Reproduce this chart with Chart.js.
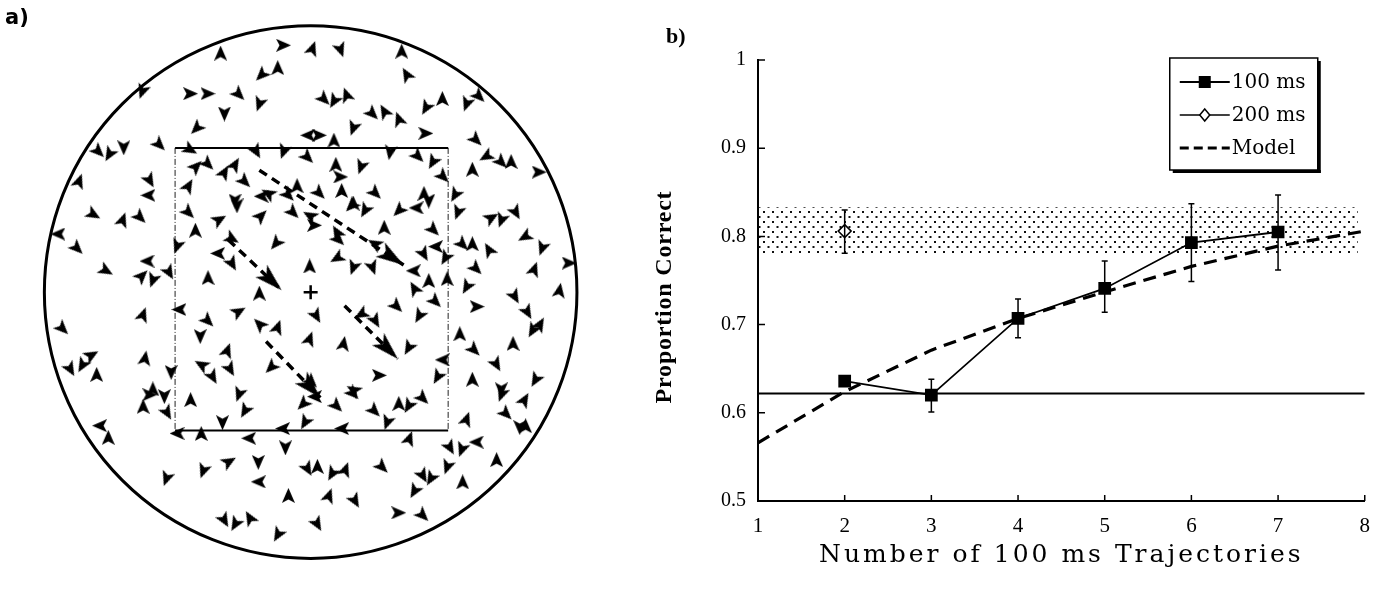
<!DOCTYPE html>
<html><head><meta charset="utf-8">
<script src="https://cdn.jsdelivr.net/npm/chart.js@4.4.1/dist/chart.umd.min.js"></script>
<style>
html,body{margin:0;padding:0;background:#fff;width:1383px;height:592px;overflow:hidden;}
#panelA{position:absolute;left:0;top:0;}
#panelB{position:absolute;left:600px;top:0;}
</style></head><body>
<canvas id="panelA" width="600" height="592"></canvas>
<canvas id="panelB" width="783" height="592"></canvas>
<script>
// ---------------- Panel a) data (stimulus display units) ----------------
const panelLabelA = 'a)';
const stimCircle = {x: 311, y: 292, r: 275};
const fixation = {x: 311, y: 292};
const windowBox = {left: 171, right: 453, top: 143, bottom: 435};
const trajStartX = [258, 226, 265, 346];
const trajStartY = [166, 238, 343, 306];
const trajEndX = [407, 281, 321, 401];
const trajEndY = [264, 290, 401, 361];
// [x, y, heading in degrees clockwise from up]
const stimArrows = [
[218,45,0],[283,37,90],[260,68,225],[277,60,0],[137,85,200],[187,87,90],[205,87,90],[237,88,135],[258,98,200],[222,108,180],
[193,123,225],[155,140,135],[187,145,120],[92,147,135],[103,150,210],[118,143,180],[255,147,150],[283,147,200],[308,153,135],[193,162,45],
[205,160,135],[222,168,30],[233,160,30],[72,177,20],[145,177,150],[143,192,270],[185,182,30],[243,178,135],[297,182,0],[260,193,270],
[267,190,300],[288,192,135],[233,198,180],
[313,40,20],[342,42,160],[405,43,0],[410,67,330],[325,93,135],[335,95,210],[348,88,340],[375,108,135],[387,105,330],[402,113,340],
[430,102,210],[447,92,0],[472,98,200],[485,90,135],[308,130,270],[320,130,90],[335,135,0],[355,123,200],[430,128,90],[482,135,135],
[492,152,240],[508,158,135],[518,157,0],[547,168,90],[337,160,0],[363,163,200],[342,173,90],[393,148,190],[422,152,135],[437,158,210],
[448,173,135],[478,165,0],[320,190,135],[343,187,0],[378,190,135],[428,190,0],[433,198,180],[460,192,210],[355,200,0],
[87,212,120],[117,217,20],[135,215,135],[185,210,135],[192,228,0],[217,217,60],[260,213,45],[50,232,270],[70,247,135],[173,245,200],
[230,237,120],[275,242,220],[215,252,270],[230,263,150],[100,270,120],[142,260,270],[137,275,45],[148,280,200],[165,272,150],[205,277,0],
[258,293,0],[175,310,270],[138,315,20],[237,312,60],[205,322,135],[258,325,315],[277,328,20],[55,330,135],[197,338,180],[225,352,20],
[85,357,60],[63,372,150],[75,368,210],[90,377,0],[140,360,10],[167,375,180],[198,367,300],[210,380,150],[228,372,150],[270,370,225],
[293,210,135],[235,203,180],[148,392,0],
[310,213,300],[315,223,90],[338,230,330],[340,238,135],[367,208,210],[353,203,225],[402,208,225],[420,205,270],[463,210,200],[387,225,0],
[377,242,300],[438,228,135],[440,245,270],[428,253,150],[450,257,210],[468,243,135],[478,242,0],[495,248,330],[498,215,60],[508,218,200],
[523,210,150],[532,235,240],[550,247,200],[578,262,90],[310,265,0],[338,257,240],[355,267,200],[375,267,160],[417,270,270],[433,280,0],
[452,278,0],[418,288,330],[482,268,135],[472,287,210],[542,268,20],[440,302,135],[400,307,135],[423,317,210],[483,307,90],[522,297,150],
[568,290,10],[535,313,150],[548,325,30],[540,332,210],[317,317,150],[363,315,240],[378,322,150],[310,340,20],[345,345,10],[412,350,210],
[465,335,0],[480,352,135],[520,345,0],[447,362,270],[503,367,150],[382,378,90],[442,380,210],[478,382,0],[543,383,210],[312,385,135],
[355,393,300],[508,393,180],
[145,398,90],[160,400,180],[138,410,0],[163,417,150],[187,403,0],[237,398,200],[243,415,210],[303,408,225],[93,430,270],[102,442,0],
[173,438,270],[198,438,0],[220,427,180],[247,443,270],[282,433,270],[305,427,210],[285,453,180],[227,467,60],[257,468,180],[200,477,200],
[162,485,200],[257,488,270],[288,502,0],[222,528,150],[233,532,210],[248,525,330],[277,543,210],
[315,400,270],[355,397,135],[338,410,135],[377,415,135],[402,407,0],[412,410,210],[427,402,135],[390,427,200],[343,433,270],[413,443,20],
[472,423,20],[508,398,200],[532,403,30],[513,418,135],[527,432,180],[533,430,0],[455,453,150],[467,455,200],[482,447,270],[503,465,0],
[308,475,150],[318,472,0],[333,480,210],[347,475,20],[385,473,135],[427,482,150],[435,485,210],[452,473,200],[468,488,0],[418,498,210],
[330,502,20],[357,508,150],[402,520,90],[427,523,135],[318,532,150]
];

// ---------------- Panel b) data ----------------
const panelLabelB = 'b)';
const xTitle = 'Number of 100 ms Trajectories';
const yTitle = 'Proportion Correct';
const xTickValues = [1, 2, 3, 4, 5, 6, 7, 8];
const xTickLabels = ['1', '2', '3', '4', '5', '6', '7', '8'];
const yTickValues = [0.5, 0.6, 0.7, 0.8, 0.9, 1.0];
const yTickLabels = ['0.5', '0.6', '0.7', '0.8', '0.9', '1'];
const seriesLabels = ['100 ms', '200 ms', 'Model'];
const trajCount100 = [2, 3, 4, 5, 6, 7];
const correct100 = [0.636, 0.620, 0.707, 0.741, 0.793, 0.805];
const err100Low = [0.632, 0.601, 0.685, 0.714, 0.749, 0.762];
const err100High = [0.640, 0.638, 0.729, 0.772, 0.837, 0.847];
const trajCount200 = [2];
const correct200 = [0.806];
const err200Low = [0.781];
const err200High = [0.830];
const modelX = [1, 2, 3, 4, 5, 6, 7, 8];
const modelY = [0.566, 0.624, 0.671, 0.707, 0.737, 0.766, 0.789, 0.806];
const chanceLevel = 0.622;
const chanceX = [1, 8];
const band200 = [0.778, 0.833];
const bandX = [1, 7.92];

// ---------------- helpers: marker images ----------------
function makeDart(w, h) {
  const c = document.createElement('canvas');
  c.width = w; c.height = h;
  const g = c.getContext('2d');
  g.fillStyle = '#000';
  g.beginPath();
  g.moveTo(w / 2, 0); g.lineTo(w, h); g.lineTo(w / 2, h * 0.76); g.lineTo(0, h);
  g.closePath(); g.fill();
  return c;
}
function makeHead(w, len) { // tip sits at the image centre
  const c = document.createElement('canvas');
  c.width = w; c.height = len * 2;
  const g = c.getContext('2d');
  g.fillStyle = '#000';
  g.beginPath();
  g.moveTo(w / 2, len); g.lineTo(w, 2 * len); g.lineTo(w / 2, len + len * 0.75); g.lineTo(0, 2 * len);
  g.closePath(); g.fill();
  return c;
}
const dart = makeDart(13, 15);
const bigHead = makeHead(17, 28);

// ---------------- Panel a) chart ----------------
const circlePlugin = {
  id: 'stimCircle',
  beforeDatasetsDraw(chart) {
    const {ctx} = chart, xs = chart.scales.x, ys = chart.scales.y;
    const cx = xs.getPixelForValue(stimCircle.x), cy = ys.getPixelForValue(stimCircle.y);
    const r = xs.getPixelForValue(stimCircle.x + stimCircle.r) - cx;
    ctx.save();
    ctx.beginPath(); ctx.arc(cx, cy, r, 0, Math.PI * 2);
    ctx.lineWidth = 3; ctx.strokeStyle = '#000'; ctx.stroke();
    ctx.restore();
  },
  afterDraw(chart) {
    const {ctx} = chart;
    ctx.save();
    ctx.fillStyle = '#000';
    ctx.font = 'bold 21px "DejaVu Sans"';
    ctx.textAlign = 'left'; ctx.textBaseline = 'middle';
    ctx.fillText(panelLabelA, 5, 19);
    ctx.restore();
  }
};

const dsA = [];
dsA.push({data: [fixation], pointStyle: 'cross', pointRadius: 7, borderColor: '#000', borderWidth: 2.5});
dsA.push({data: stimArrows.map(a => ({x: a[0], y: a[1]})), pointStyle: dart, pointRadius: 6,
  pointRotation: c => (stimArrows[c.dataIndex] ? stimArrows[c.dataIndex][2] : 0)});
dsA.push({data: trajEndX.map((x, i) => ({x, y: trajEndY[i]})), pointStyle: bigHead, pointRadius: 8,
  pointRotation: c => {
    const i = c.dataIndex;
    return Math.atan2(trajEndX[i] - trajStartX[i], -(trajEndY[i] - trajStartY[i])) * 180 / Math.PI;
  }});
trajStartX.forEach((sx, i) => {
  dsA.push({data: [{x: sx, y: trajStartY[i]}, {x: trajEndX[i], y: trajEndY[i]}], showLine: true,
    borderColor: '#000', borderWidth: 3.5, borderDash: [9, 6], pointRadius: 0});
});
[windowBox.top, windowBox.bottom].forEach(y => {
  dsA.push({data: [{x: windowBox.left, y}, {x: windowBox.right, y}], showLine: true,
    borderColor: '#000', borderWidth: 2, pointRadius: 0});
});
[windowBox.left, windowBox.right].forEach(x => {
  dsA.push({data: [{x, y: windowBox.top}, {x, y: windowBox.bottom}], showLine: true,
    borderColor: '#222', borderWidth: 1, borderDash: [6, 2, 1, 2], pointRadius: 0});
});

new Chart(document.getElementById('panelA'), {
  type: 'scatter',
  data: {datasets: dsA},
  options: {
    responsive: false, animation: false, devicePixelRatio: 1, events: [],
    layout: {padding: 0},
    plugins: {legend: {display: false}, tooltip: {enabled: false}},
    scales: {
      x: {type: 'linear', display: false, min: 0, max: 600},
      y: {type: 'linear', display: false, min: 0, max: 592, reverse: true}
    }
  },
  plugins: [circlePlugin]
});

// ---------------- Panel b) chart ----------------
const tile = document.createElement('canvas');
tile.width = 9; tile.height = 10;
(function () {
  const g = tile.getContext('2d');
  g.fillStyle = '#111';
  g.fillRect(1, 1, 2, 2);
  g.fillRect(5.5, 6, 2, 2);
})();
const dotPattern = document.createElement('canvas').getContext('2d').createPattern(tile, 'repeat');

const errorBars = {
  id: 'errorBars',
  afterDatasetsDraw(chart) {
    const {ctx} = chart, xs = chart.scales.x, ys = chart.scales.y;
    ctx.save();
    ctx.strokeStyle = '#000'; ctx.lineWidth = 1.5;
    const draw = (xv, lo, hi) => {
      const x = xs.getPixelForValue(xv), y1 = ys.getPixelForValue(lo), y2 = ys.getPixelForValue(hi);
      ctx.beginPath();
      ctx.moveTo(x, y1); ctx.lineTo(x, y2);
      ctx.moveTo(x - 3, y1); ctx.lineTo(x + 3, y1);
      ctx.moveTo(x - 3, y2); ctx.lineTo(x + 3, y2);
      ctx.stroke();
    };
    trajCount100.forEach((xv, i) => draw(xv, err100Low[i], err100High[i]));
    trajCount200.forEach((xv, i) => draw(xv, err200Low[i], err200High[i]));
    ctx.restore();
  }
};

const innerTicks = {
  id: 'innerTicks',
  afterDraw(chart) {
    const {ctx, chartArea: ca} = chart, xs = chart.scales.x, ys = chart.scales.y;
    ctx.save();
    ctx.strokeStyle = '#000'; ctx.lineWidth = 1.5;
    ctx.beginPath();
    yTickValues.forEach(v => { const y = ys.getPixelForValue(v); ctx.moveTo(ca.left, y); ctx.lineTo(ca.left + 7, y); });
    xTickValues.slice(1).forEach(v => { const x = xs.getPixelForValue(v); ctx.moveTo(x, ca.bottom); ctx.lineTo(x, ca.bottom - 6); });
    ctx.stroke();
    ctx.restore();
  }
};

const textAndLegend = {
  id: 'textAndLegend',
  afterDraw(chart) {
    const {ctx, chartArea: ca} = chart;
    ctx.save();
    ctx.fillStyle = '#000';
    ctx.textBaseline = 'middle';
    // panel letter
    ctx.font = 'bold 22px "Liberation Serif"';
    ctx.textAlign = 'left';
    ctx.fillText(panelLabelB, 66, 37);
    // x title
    ctx.font = '25px "DejaVu Serif"';
    ctx.letterSpacing = '3px';
    ctx.textAlign = 'center';
    ctx.fillText(xTitle, (ca.left + ca.right) / 2, 555);
    // y title
    ctx.save();
    ctx.translate(ca.left - 93, 297);
    ctx.rotate(-Math.PI / 2);
    ctx.font = 'bold 24px "Liberation Serif"';
    ctx.letterSpacing = '0.8px';
    ctx.fillText(yTitle, 0, 0);
    ctx.restore();
    ctx.letterSpacing = '0px';
    // legend box
    const bx = ca.right - 195, by = 58, bw = 148, bh = 112;
    ctx.fillStyle = '#fff';
    ctx.fillRect(bx, by, bw, bh);
    ctx.strokeStyle = '#000'; ctx.lineWidth = 1.5;
    ctx.strokeRect(bx, by, bw, bh);
    ctx.fillStyle = '#000';
    ctx.fillRect(bx + bw, by + 3, 3, bh);
    ctx.fillRect(bx + 3, by + bh, bw, 3);
    const rows = [by + 24, by + 57, by + 90];
    const x1 = bx + 10, x2 = bx + 60, xm = bx + 35;
    // row 1
    ctx.lineWidth = 2; ctx.setLineDash([]);
    ctx.beginPath(); ctx.moveTo(x1, rows[0]); ctx.lineTo(x2, rows[0]); ctx.stroke();
    ctx.fillRect(xm - 6, rows[0] - 6, 12, 12);
    // row 2
    ctx.lineWidth = 1.5;
    ctx.beginPath(); ctx.moveTo(x1, rows[1]); ctx.lineTo(x2, rows[1]); ctx.stroke();
    ctx.beginPath();
    ctx.moveTo(xm, rows[1] - 6); ctx.lineTo(xm + 5, rows[1]); ctx.lineTo(xm, rows[1] + 6); ctx.lineTo(xm - 5, rows[1]);
    ctx.closePath(); ctx.fillStyle = '#fff'; ctx.fill(); ctx.stroke();
    ctx.fillStyle = '#000';
    // row 3
    ctx.lineWidth = 3; ctx.setLineDash([9, 5]);
    ctx.beginPath(); ctx.moveTo(x1, rows[2]); ctx.lineTo(x2, rows[2]); ctx.stroke();
    ctx.setLineDash([]);
    ctx.font = '20px "DejaVu Serif"';
    ctx.textAlign = 'left';
    seriesLabels.forEach((t, i) => ctx.fillText(t, x2 + 2, rows[i] + 1));
    ctx.restore();
  }
};

new Chart(document.getElementById('panelB'), {
  type: 'line',
  data: {
    datasets: [
      {label: seriesLabels[0], order: 0, data: trajCount100.map((x, i) => ({x, y: correct100[i]})),
        borderColor: '#000', backgroundColor: '#000', borderWidth: 1.8,
        pointStyle: 'rect', pointRadius: 9, pointBackgroundColor: '#000', pointBorderWidth: 0, fill: false},
      {label: seriesLabels[1], order: 1, data: trajCount200.map((x, i) => ({x, y: correct200[i]})),
        borderColor: '#000', borderWidth: 1.5, showLine: false,
        pointStyle: 'rectRot', pointRadius: 6.5, pointBackgroundColor: '#fff', pointBorderColor: '#000', pointBorderWidth: 1.5, fill: false},
      {label: seriesLabels[2], order: 2, data: modelX.map((x, i) => ({x, y: modelY[i]})),
        borderColor: '#000', borderWidth: 3.2, borderDash: [13, 8], pointRadius: 0, fill: false},
      {label: 'chance', order: 3, data: chanceX.map(x => ({x, y: chanceLevel})),
        borderColor: '#000', borderWidth: 2, pointRadius: 0, fill: false},
      {label: '200 ms range', order: 4, data: bandX.map(x => ({x, y: band200[1]})),
        borderColor: 'rgba(0,0,0,0)', borderWidth: 0, pointRadius: 0,
        fill: {value: band200[0]}, backgroundColor: dotPattern}
    ]
  },
  options: {
    responsive: false, animation: false, devicePixelRatio: 1, events: [],
    layout: {padding: {top: 60, right: 13, left: 0, bottom: 0}},
    plugins: {legend: {display: false}, tooltip: {enabled: false}},
    scales: {
      x: {
        type: 'linear', min: 1, max: 8,
        afterBuildTicks: s => { s.ticks = xTickValues.map(v => ({value: v})); },
        afterFit: s => { s.height = 91; },
        ticks: {callback: (v, i) => xTickLabels[i], color: '#000', padding: 13, maxRotation: 0, autoSkip: false,
          font: {family: '"Liberation Serif"', size: 21}},
        grid: {display: false, drawTicks: false},
        border: {color: '#000', width: 2}
      },
      y: {
        type: 'linear', min: 0.5, max: 1.0,
        afterBuildTicks: s => { s.ticks = yTickValues.map(v => ({value: v})); },
        afterFit: s => { s.width = 158; },
        ticks: {callback: (v, i) => yTickLabels[i], color: '#000', padding: 12, autoSkip: false,
          font: {family: '"Liberation Serif"', size: 20}},
        grid: {display: false, drawTicks: false},
        border: {color: '#000', width: 2}
      }
    }
  },
  plugins: [errorBars, innerTicks, textAndLegend]
});
</script>
</body></html>
